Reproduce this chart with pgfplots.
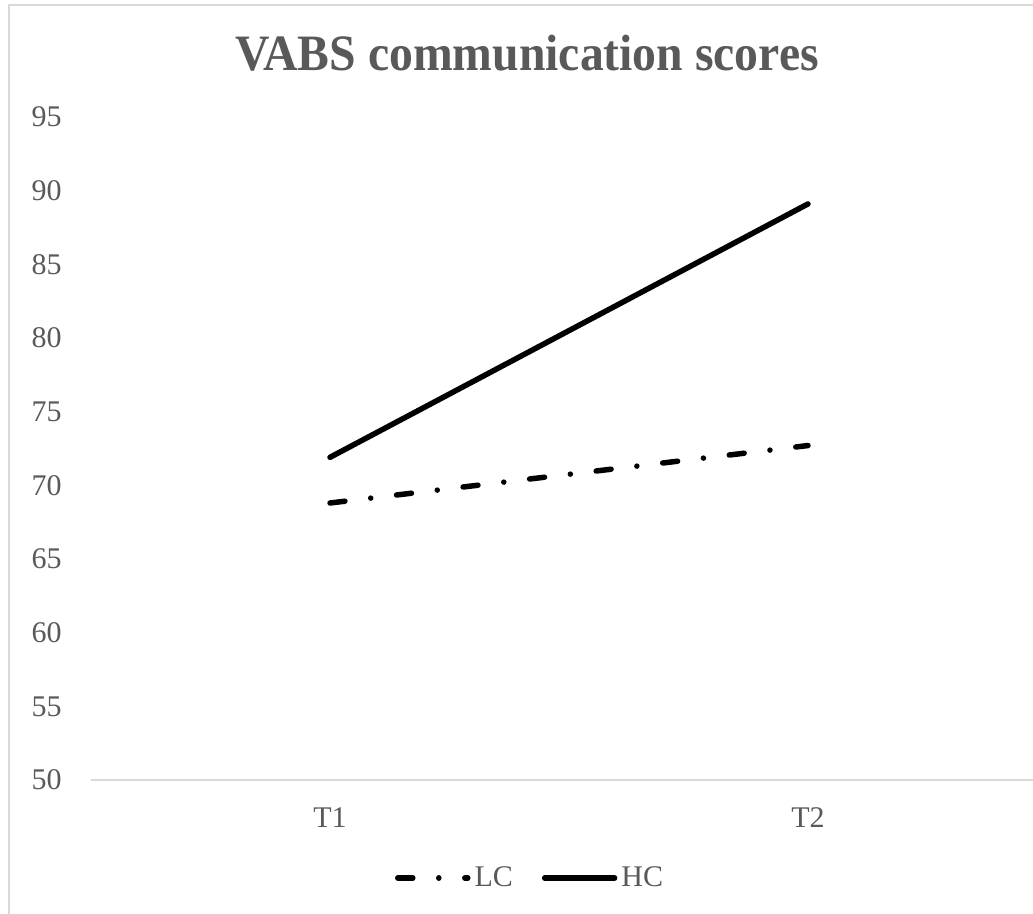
\documentclass[border=0pt]{standalone}
\usepackage{fontspec}
\setmainfont{Liberation Serif}
\usepackage{pgfplots}
\pgfplotsset{compat=1.18}
\definecolor{txt}{HTML}{595959}
\definecolor{frame}{HTML}{D9D9D9}

\begin{document}
\begin{tikzpicture}
% 1 px of the reference = 0.5pt
\path[use as bounding box] (0,0) rectangle (516.5pt,457pt);
\draw[frame, line width=0.75pt] (4.5pt,454.5pt) rectangle (523pt,-10pt);
\node[txt, anchor=base, inner sep=0pt,
      font=\fontsize{25.5}{30}\selectfont\bfseries] at (263.5pt,421.5pt)
      {\scalebox{0.935}[1]{VABS communication scores}};

\begin{axis}[
  at={(45.5pt,67pt)}, anchor=south west,
  scale only axis, width=478pt, height=331.5pt,
  xmin=0, xmax=2, ymin=50, ymax=95,
  xtick={0.5,1.5}, xticklabels={T1,T2},
  ytick={50,55,...,95},
  major tick length=0pt,
  axis line style={draw=none},
  /pgf/number format/assume math mode=true,
  tick label style={font=\fontsize{15}{18}\selectfont, text=txt, inner sep=0pt},
  yticklabel style={anchor=east, xshift=-14.5pt},
  xticklabel style={anchor=north, yshift=-13.5pt},
  legend columns=2,
  legend style={at={(0.4603,-0.1478)}, anchor=center, draw=none, fill=none,
                font=\fontsize{15}{18}\selectfont, text=txt,
                /tikz/every even column/.append style={column sep=12.5pt}},
  legend image code/.code={\draw[#1] (0pt,0pt) -- (35pt,0pt);},
  after end axis/.code={\draw[frame, line width=0.75pt]
      (rel axis cs:0,0) -- (rel axis cs:1,0);},
]
\addplot[black, line width=2.75pt, line cap=round,
         dash pattern=on 7.5pt off 13pt on 0.01pt off 13pt]
  coordinates {(0.5,68.8) (1.5,72.7)};
\addplot[black, line width=2.75pt, line cap=round]
  coordinates {(0.5,71.9) (1.5,89.1)};
\legend{LC,HC}
\end{axis}
\end{tikzpicture}
\end{document}
